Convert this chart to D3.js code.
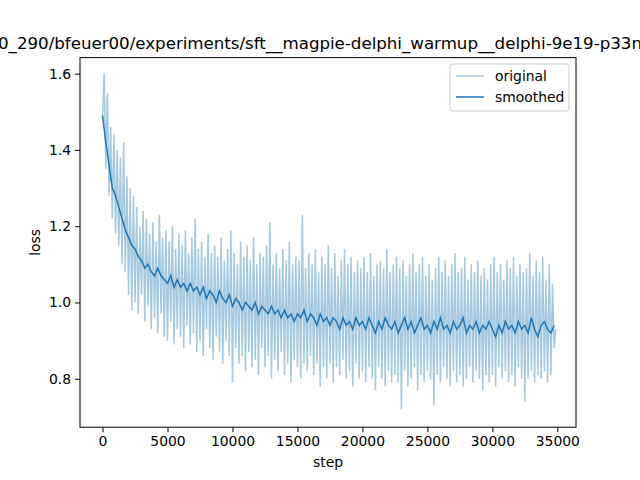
<!DOCTYPE html>
<html><head><meta charset="utf-8">
<script src="https://cdn.jsdelivr.net/npm/d3@7"></script>
<style>body{margin:0;background:#fff}text{font-family:"DejaVu Sans",sans-serif}</style>
</head><body>
<svg id="chart" width="640" height="480"></svg>
<script>
const origStepSize = 125;
const origLoss = [
  1.48,1.60,1.35,1.55,1.28,1.46,1.22,1.44,1.18,1.40,
  1.15,1.38,1.10,1.42,1.08,1.33,1.02,1.30,0.98,1.28,
  1.00,1.25,0.97,1.20,1.02,1.24,0.95,1.22,0.99,1.18,
  0.93,1.21,0.96,1.16,0.92,1.23,0.97,1.17,0.91,1.19,
  0.90,1.16,0.95,1.20,0.89,1.14,0.93,1.18,0.91,1.15,
  0.88,1.19,0.94,1.13,0.89,1.17,0.92,1.22,0.87,1.14,
  0.90,1.16,0.86,1.12,0.93,1.18,0.88,1.13,0.85,1.15,
  0.91,1.12,0.87,1.17,0.84,1.11,0.90,1.14,0.86,1.19,
  0.79,1.13,0.88,1.10,0.84,1.16,0.86,1.12,0.82,1.15,
  0.87,1.11,0.83,1.17,0.85,1.10,0.81,1.13,0.88,1.12,
  0.83,1.15,0.86,1.21,0.80,1.10,0.85,1.13,0.82,1.09,
  0.87,1.14,0.81,1.11,0.84,1.16,0.79,1.10,0.85,1.12,
  0.83,1.11,0.80,1.23,0.84,1.09,0.82,1.13,0.86,1.10,
  0.81,1.14,0.84,1.08,0.78,1.12,0.83,1.10,0.80,1.15,
  0.84,1.09,0.79,1.13,0.83,1.07,0.81,1.11,0.85,1.14,
  0.80,1.10,0.82,1.12,0.78,1.08,0.84,1.11,0.80,1.09,
  0.82,1.12,0.79,1.08,0.83,1.13,0.80,1.07,0.77,1.10,
  0.83,1.11,0.80,1.09,0.78,1.14,0.82,1.08,0.79,1.10,
  0.81,1.12,0.79,1.09,0.72,1.11,0.82,1.07,0.78,1.10,
  0.80,1.13,0.83,1.08,0.77,1.10,0.81,1.12,0.79,1.07,
  0.82,1.10,0.80,1.06,0.73,1.09,0.81,1.12,0.79,1.08,
  0.83,1.11,0.80,1.07,0.78,1.10,0.82,1.13,0.79,1.08,
  0.81,1.09,0.78,1.12,0.80,1.06,0.83,1.10,0.79,1.08,
  0.82,1.11,0.80,1.07,0.77,1.09,0.81,1.06,0.79,1.10,
  0.81,1.12,0.78,1.08,0.83,1.10,0.80,1.06,0.82,1.11,
  0.79,1.09,0.81,1.12,0.78,1.07,0.83,1.10,0.80,1.08,
  0.74,1.09,0.80,1.13,0.82,1.07,0.79,1.11,0.81,1.08,
  0.80,1.12,0.82,1.06,0.79,1.10,0.81,1.05,0.88,0.93
];
// smoothed loss, every 250 steps
const smoothStepSize = 250;
const smoothLoss = [
  1.49,1.42,1.36,1.30,1.28,1.25,1.22,1.19,1.17,1.15,
  1.14,1.12,1.11,1.09,1.10,1.08,1.07,1.09,1.07,1.06,
  1.05,1.07,1.04,1.06,1.04,1.05,1.03,1.05,1.03,1.04,
  1.02,1.04,1.01,1.03,1.02,1.00,1.03,1.01,1.00,1.02,
  0.99,1.01,1.00,0.98,1.00,0.99,0.98,1.00,0.97,0.99,
  0.98,0.97,0.99,0.97,0.98,0.96,0.98,0.96,0.97,0.95,
  0.97,0.96,0.98,0.95,0.97,0.96,0.94,0.97,0.95,0.96,
  0.94,0.96,0.95,0.93,0.96,0.94,0.95,0.93,0.96,0.94,
  0.95,0.93,0.96,0.94,0.92,0.95,0.93,0.96,0.94,0.93,
  0.95,0.92,0.94,0.96,0.93,0.95,0.92,0.94,0.96,0.93,
  0.94,0.92,0.95,0.93,0.96,0.93,0.94,0.92,0.95,0.93,
  0.94,0.96,0.92,0.94,0.93,0.95,0.92,0.94,0.93,0.95,
  0.93,0.91,0.94,0.92,0.95,0.93,0.94,0.92,0.95,0.93,
  0.94,0.92,0.96,0.93,0.91,0.94,0.95,0.93,0.92,0.94
];
const xTicks = [0,5000,10000,15000,20000,25000,30000,35000];
const yTicks = [0.8,1.0,1.2,1.4,1.6];
const titleText = "0_290/bfeuer00/experiments/sft__magpie-delphi_warmup__delphi-9e19-p33n";

const svg = d3.select("#chart");
const m = {left: 80, right: 576, top: 57.6, bottom: 427.2};

const orig = origLoss.map((v, i) => [i * origStepSize, v]);
const smooth = smoothLoss.map((v, i) => [i * smoothStepSize, v]);

const x = d3.scaleLinear().domain([-1735, 36435]).range([m.left, m.right]);
const y = d3.scaleLinear().domain([0.673, 1.642]).range([m.bottom, m.top]);

const line = d3.line().x(d => x(d[0])).y(d => y(d[1]));

svg.append("path").datum(orig).attr("d", line)
  .attr("fill", "none").attr("stroke", "#a5c8e1").attr("stroke-width", 1.5);
svg.append("path").datum(smooth).attr("d", line)
  .attr("fill", "none").attr("stroke", "#1f77b4").attr("stroke-width", 1.5);

// axes
svg.append("g").attr("transform", `translate(0,${m.bottom})`)
  .call(d3.axisBottom(x).tickValues(xTicks).tickFormat(d3.format("d")).tickSizeOuter(0).tickSize(5).tickPadding(4))
  .call(g => g.select(".domain").remove())
  .selectAll("text").attr("font-size", 13.9).attr("fill", "#000").style("font-family", "DejaVu Sans");
svg.append("g").attr("transform", `translate(${m.left},0)`)
  .call(d3.axisLeft(y).tickValues(yTicks).tickFormat(d3.format(".1f")).tickSizeOuter(0).tickSize(5).tickPadding(4))
  .call(g => g.select(".domain").remove())
  .selectAll("text").attr("font-size", 13.9).attr("fill", "#000").style("font-family", "DejaVu Sans");

svg.append("rect").attr("x", m.left).attr("y", m.top)
  .attr("width", m.right - m.left).attr("height", m.bottom - m.top)
  .attr("fill", "none").attr("stroke", "#000").attr("stroke-width", 1);

svg.append("text").attr("x", 328).attr("y", 467).attr("text-anchor", "middle")
  .attr("font-size", 13.9).text("step");
svg.append("text").attr("transform", `translate(40,${(m.top + m.bottom) / 2}) rotate(-90)`)
  .attr("text-anchor", "middle").attr("font-size", 13.9).text("loss");

svg.append("text").attr("x", 320).attr("y", 49).attr("text-anchor", "middle")
  .attr("font-size", 16.7).attr("textLength", 644).text(titleText);

// legend
const lg = svg.append("g").attr("transform", "translate(450,64)");
lg.append("rect").attr("width", 119).attr("height", 47).attr("rx", 3)
  .attr("fill", "#fff").attr("fill-opacity", 0.8).attr("stroke", "#ccc");
[["original", "#a5c8e1"], ["smoothed", "#1f77b4"]].forEach((d, i) => {
  const yy = 12 + i * 21;
  lg.append("line").attr("x1", 6).attr("x2", 34).attr("y1", yy).attr("y2", yy)
    .attr("stroke", d[1]).attr("stroke-width", 1.5);
  lg.append("text").attr("x", 45).attr("y", yy + 5).attr("font-size", 13.9).text(d[0]);
});
</script>
</body></html>
